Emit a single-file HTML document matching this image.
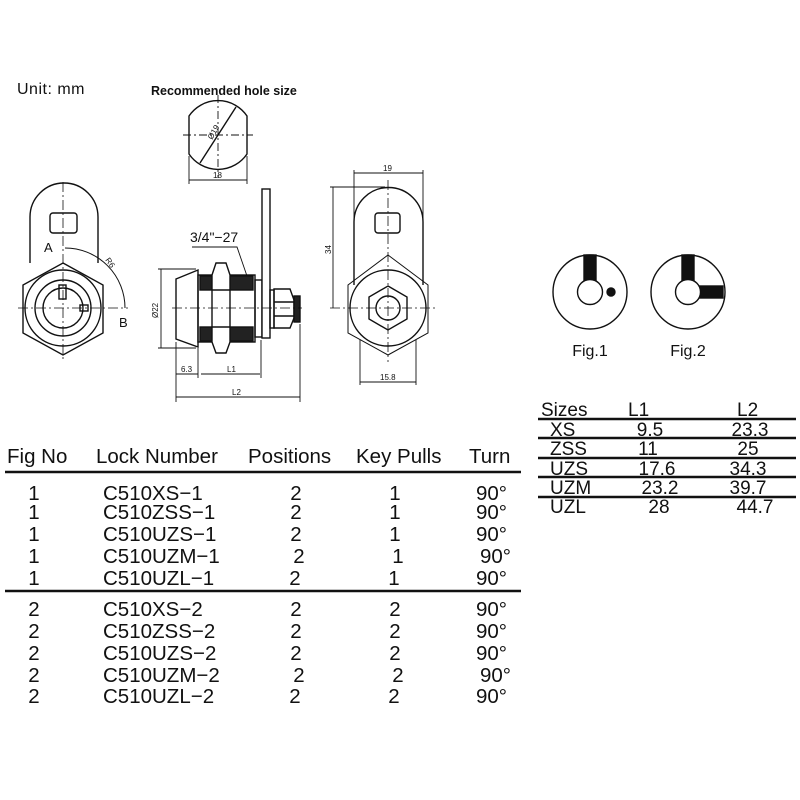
<!DOCTYPE html>
<html><head><meta charset="utf-8"><style>
html,body{margin:0;padding:0;background:#fff}
svg{display:block}
text{font-family:"Liberation Sans",sans-serif;fill:#111}
</style></head><body>
<svg width="800" height="800" viewBox="0 0 800 800" xmlns="http://www.w3.org/2000/svg">
<text x="17" y="94" font-size="16" letter-spacing="0.5">Unit:  mm</text>
<text x="151" y="95" font-size="12.5" font-weight="bold">Recommended  hole  size</text>

<!-- hole -->
<g fill="none" stroke="#111" stroke-width="1.4">
<path d="M189 116 A35 35 0 0 1 247 116 L247 154 A35 35 0 0 1 189 154 Z"/>
<line x1="183" y1="135" x2="253" y2="135" stroke-dasharray="8 3 2 3" stroke-width="0.9"/>
<line x1="218" y1="95" x2="218" y2="178" stroke-dasharray="8 3 2 3" stroke-width="0.9"/>
<line x1="200" y1="163" x2="236" y2="107"/>
<line x1="189" y1="156" x2="189" y2="184" stroke-width="0.9"/>
<line x1="247" y1="156" x2="247" y2="184" stroke-width="0.9"/>
<line x1="189" y1="180" x2="247" y2="180" stroke-width="0.9"/>
</g>
<text x="213" y="178" font-size="8">18</text>
<text x="0" y="0" font-size="8" transform="translate(212,140) rotate(-60)">Ø19</text>

<!-- Left figure -->
<g fill="none" stroke="#111" stroke-width="1.4">
<path d="M30 263 L30 217 A34 34 0 0 1 98 217 L98 263"/>
<rect x="50" y="213" width="27" height="20" rx="3"/>
<polygon points="63,263 103,285 103,333 63,355 23,333 23,285"/>
<circle cx="63" cy="308" r="38"/>
<circle cx="63" cy="308" r="28"/>
<circle cx="63" cy="308" r="20"/>
<rect x="59" y="285" width="7" height="14"/>
<rect x="80" y="305" width="8" height="6"/>
<line x1="63" y1="182" x2="63" y2="360" stroke-dasharray="10 3 2 3" stroke-width="0.8"/>
<line x1="18" y1="308" x2="128" y2="308" stroke-dasharray="10 3 2 3" stroke-width="0.8"/>
<path d="M65 248 A60 60 0 0 1 125 308" stroke-width="1"/>
</g>
<text x="44" y="252" font-size="13">A</text>
<text x="119" y="327" font-size="13">B</text>
<text x="0" y="0" font-size="8" transform="translate(105,260) rotate(55)">R6</text>

<!-- Middle figure -->
<g fill="none" stroke="#111" stroke-width="1.4">
<polygon points="176,279 198,270 198,347 176,339"/>
<rect x="198" y="275" width="57" height="67"/>
<rect x="200" y="276" width="53" height="14" fill="#222"/>
<rect x="200" y="327" width="53" height="14" fill="#222"/>
<path d="M216 263 L226 263 L230 275 L230 342 L226 353 L216 353 L212 342 L212 275 Z" fill="#fff"/>
<line x1="212" y1="290" x2="230" y2="290"/><line x1="212" y1="327" x2="230" y2="327"/>
<rect x="255" y="280" width="7" height="57"/>
<rect x="262" y="189" width="8" height="149" fill="#fff"/>
<rect x="270" y="290" width="4" height="38"/>
<path d="M274 289 L290 289 L294 300 L294 318 L290 328 L274 328 Z"/>
<line x1="274" y1="302" x2="294" y2="302"/><line x1="274" y1="316" x2="294" y2="316"/>
<rect x="294" y="296" width="6" height="26" fill="#222"/>
<line x1="172" y1="308" x2="302" y2="308" stroke-dasharray="10 3 2 3" stroke-width="0.8"/>
<g stroke-width="0.9">
<line x1="158" y1="269" x2="196" y2="269"/><line x1="158" y1="348" x2="196" y2="348"/>
<line x1="161" y1="269" x2="161" y2="348"/>
<line x1="176" y1="342" x2="176" y2="402"/><line x1="198" y1="348" x2="198" y2="378"/>
<line x1="261" y1="340" x2="261" y2="378"/><line x1="300" y1="324" x2="300" y2="402"/>
<line x1="176" y1="374" x2="198" y2="374"/><line x1="201" y1="374" x2="260" y2="374"/>
<line x1="176" y1="397" x2="300" y2="397"/>
<polyline points="192,247 237,247 247,276"/>
</g>
</g>
<text x="190" y="242" font-size="14">3/4"−27</text>
<text x="0" y="0" font-size="8" transform="translate(158,318) rotate(-90)">Ø22</text>
<text x="181" y="372" font-size="8">6.3</text>
<text x="227" y="372" font-size="8">L1</text>
<text x="232" y="395" font-size="8">L2</text>

<!-- Right figure -->
<g fill="none" stroke="#111" stroke-width="1.4">
<path d="M354 285 L354 222 A34 34 0 0 1 423 222 L423 285"/>
<rect x="375" y="213" width="25" height="20" rx="3"/>
<polygon points="388,255 428,285 428,333 388,355 348,333 348,285" stroke-width="1"/>
<circle cx="388" cy="308" r="38"/>
<polygon points="388,286 407,297 407,319 388,330 369,319 369,297"/>
<circle cx="388" cy="308" r="12"/>
<line x1="388" y1="180" x2="388" y2="362" stroke-dasharray="10 3 2 3" stroke-width="0.8"/>
<line x1="330" y1="308" x2="436" y2="308" stroke-dasharray="10 3 2 3" stroke-width="0.8"/>
<g stroke-width="0.9">
<line x1="354" y1="170" x2="354" y2="220"/><line x1="423" y1="170" x2="423" y2="220"/>
<line x1="354" y1="173" x2="423" y2="173"/>
<line x1="330" y1="187" x2="385" y2="187"/><line x1="333" y1="187" x2="333" y2="308"/>
<line x1="360" y1="340" x2="360" y2="385"/><line x1="416" y1="340" x2="416" y2="385"/>
<line x1="360" y1="382" x2="416" y2="382"/>
</g>
</g>
<text x="383" y="171" font-size="8">19</text>
<text x="0" y="0" font-size="8" transform="translate(331,254) rotate(-90)">34</text>
<text x="380" y="380" font-size="8">15.8</text>

<!-- Fig 1 / Fig 2 -->
<g stroke="#111" stroke-width="1.4">
<circle cx="590" cy="292" r="37" fill="none"/>
<rect x="584" y="255" width="12" height="26" fill="#111"/>
<circle cx="590" cy="292" r="12.5" fill="#fff"/>
<circle cx="611" cy="292" r="4" fill="#111"/>
<circle cx="688" cy="292" r="37" fill="none"/>
<rect x="682" y="255" width="12" height="26" fill="#111"/>
<rect x="698" y="286" width="25" height="12" fill="#111"/>
<circle cx="688" cy="292" r="12.5" fill="#fff"/>
</g>
<text x="590" y="356" font-size="16" text-anchor="middle">Fig.1</text>
<text x="688" y="356" font-size="16" text-anchor="middle">Fig.2</text>

<!-- Sizes table -->
<g font-size="19">
<text x="541" y="416">Sizes</text><text x="628" y="416">L1</text><text x="737" y="416">L2</text>
<text x="550" y="436">XS</text><text x="650" y="436" text-anchor="middle">9.5</text><text x="750" y="436" text-anchor="middle">23.3</text>
<text x="550" y="455">ZSS</text><text x="648" y="455" text-anchor="middle">11</text><text x="748" y="455" text-anchor="middle">25</text>
<text x="550" y="475">UZS</text><text x="657" y="475" text-anchor="middle">17.6</text><text x="748" y="475" text-anchor="middle">34.3</text>
<text x="550" y="494">UZM</text><text x="660" y="494" text-anchor="middle">23.2</text><text x="748" y="494" text-anchor="middle">39.7</text>
<text x="550" y="513">UZL</text><text x="659" y="513" text-anchor="middle">28</text><text x="755" y="513" text-anchor="middle">44.7</text>
</g>
<g stroke="#111" stroke-width="2.5">
<line x1="538" y1="419" x2="796" y2="419"/><line x1="538" y1="438" x2="796" y2="438"/>
<line x1="538" y1="458" x2="796" y2="458"/><line x1="538" y1="477" x2="796" y2="477"/>
<line x1="538" y1="497" x2="796" y2="497"/>
</g>

<!-- Main table -->
<g font-size="20.5">
<text x="7" y="463">Fig  No</text><text x="96" y="463">Lock  Number</text>
<text x="248" y="463">Positions</text><text x="356" y="463">Key  Pulls</text><text x="469" y="463">Turn</text>
</g>
<g stroke="#111" stroke-width="2.5">
<line x1="5" y1="472" x2="521" y2="472"/><line x1="5" y1="591" x2="521" y2="591"/>
</g>
<g font-size="20.5">
<text x="34" y="500" text-anchor="middle">1</text><text x="103" y="500">C510XS−1</text><text x="296" y="500" text-anchor="middle">2</text><text x="395" y="500" text-anchor="middle">1</text><text x="476" y="500">90°</text>
<text x="34" y="519" text-anchor="middle">1</text><text x="103" y="519">C510ZSS−1</text><text x="296" y="519" text-anchor="middle">2</text><text x="395" y="519" text-anchor="middle">1</text><text x="476" y="519">90°</text>
<text x="34" y="541" text-anchor="middle">1</text><text x="103" y="541">C510UZS−1</text><text x="296" y="541" text-anchor="middle">2</text><text x="395" y="541" text-anchor="middle">1</text><text x="476" y="541">90°</text>
<text x="34" y="563" text-anchor="middle">1</text><text x="103" y="563">C510UZM−1</text><text x="299" y="563" text-anchor="middle">2</text><text x="398" y="563" text-anchor="middle">1</text><text x="480" y="563">90°</text>
<text x="34" y="585" text-anchor="middle">1</text><text x="103" y="585">C510UZL−1</text><text x="295" y="585" text-anchor="middle">2</text><text x="394" y="585" text-anchor="middle">1</text><text x="476" y="585">90°</text>
<text x="34" y="616" text-anchor="middle">2</text><text x="103" y="616">C510XS−2</text><text x="296" y="616" text-anchor="middle">2</text><text x="395" y="616" text-anchor="middle">2</text><text x="476" y="616">90°</text>
<text x="34" y="638" text-anchor="middle">2</text><text x="103" y="638">C510ZSS−2</text><text x="296" y="638" text-anchor="middle">2</text><text x="395" y="638" text-anchor="middle">2</text><text x="476" y="638">90°</text>
<text x="34" y="660" text-anchor="middle">2</text><text x="103" y="660">C510UZS−2</text><text x="296" y="660" text-anchor="middle">2</text><text x="395" y="660" text-anchor="middle">2</text><text x="476" y="660">90°</text>
<text x="34" y="682" text-anchor="middle">2</text><text x="103" y="682">C510UZM−2</text><text x="299" y="682" text-anchor="middle">2</text><text x="398" y="682" text-anchor="middle">2</text><text x="480" y="682">90°</text>
<text x="34" y="703" text-anchor="middle">2</text><text x="103" y="703">C510UZL−2</text><text x="295" y="703" text-anchor="middle">2</text><text x="394" y="703" text-anchor="middle">2</text><text x="476" y="703">90°</text>
</g>
</svg>
</body></html>
